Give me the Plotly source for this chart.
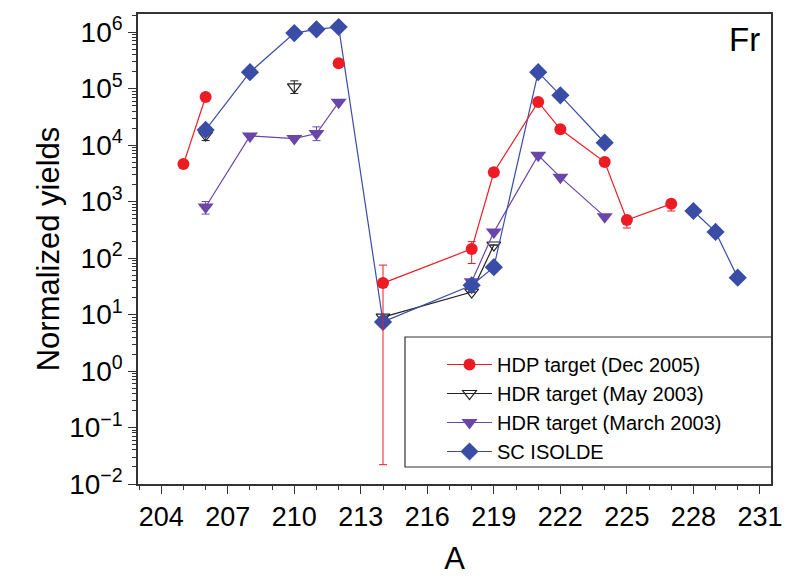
import plotly.graph_objects as go

# ---- data (None = break in the line) ----
hdp_A = [205, 206, None, 212, None, 214, 218, 219, 221, 222, 224, 225, 227]
hdp_y = [4.6e3, 7.1e4, None, 2.8e5, None, 36, 145, 3.3e3, 5.8e4, 1.9e4, 5.0e3, 470, 910]
hdp_err_plus = [0, 0, 0, 0, 0, 39, 50, 0, 0, 0, 0, 80, 150]
hdp_err_minus = [0, 0, 0, 0, 0, 35.978, 65, 0, 0, 0, 0, 130, 230]

may_A = [206, None, 210, None, 214, 218, 219]
may_y = [1.5e4, None, 1.07e5, None, 9, 25, 170]
may_err_plus = [3e3, 0, 3e4, 0, 0, 0, 0]
may_err_minus = [3e3, 0, 2.5e4, 0, 0, 0, 0]

mar_A = [206, 208, 210, 211, 212, None, 218, 219, 221, 222, 224]
mar_y = [800, 1.45e4, 1.3e4, 1.6e4, 5.7e4, None, 38, 290, 6.6e3, 2.7e3, 540]
mar_err_plus = [200, 0, 0, 5e3, 0, 0, 0, 0, 0, 0, 0]
mar_err_minus = [200, 0, 0, 4e3, 0, 0, 0, 0, 0, 0, 0]

sc_A = [206, 208, 210, 211, 212, 214, 218, 219, 221, 222, 224, None, 228, 229, 230]
sc_y = [1.85e4, 1.95e5, 9.6e5, 1.12e6, 1.23e6, 7.4, 33, 69, 1.95e5, 7.6e4, 1.1e4, None, 680, 290, 45]

x_tickvals = [204, 207, 210, 213, 216, 219, 222, 225, 228, 231]
y_tickvals = [1e-2, 1e-1, 1e0, 1e1, 1e2, 1e3, 1e4, 1e5, 1e6]
y_ticktext = ["10<sup>\u22122</sup>", "10<sup>\u22121</sup>", "10<sup>0</sup>", "10<sup>1</sup>",
              "10<sup>2</sup>", "10<sup>3</sup>", "10<sup>4</sup>", "10<sup>5</sup>", "10<sup>6</sup>"]

RED = "#ED1C24"
BLACK = "#222222"
PURPLE = "#6A46AA"
BLUE = "#3A4DA6"

FONT = "Liberation Sans, Arial, Helvetica, sans-serif"

fig = go.Figure()

fig.add_trace(go.Scatter(
    x=may_A, y=may_y, mode="lines+markers", name="HDR target (May 2003)",
    legendrank=2,
    line=dict(color=BLACK, width=1.2),
    marker=dict(symbol="triangle-down-open", size=12, color=BLACK, line=dict(width=1.2)),
    error_y=dict(type="data", array=may_err_plus, arrayminus=may_err_minus,
                 color=BLACK, thickness=1, width=4),
))
fig.add_trace(go.Scatter(
    x=mar_A, y=mar_y, mode="lines+markers", name="HDR target (March 2003)",
    legendrank=3,
    line=dict(color=PURPLE, width=1.2),
    marker=dict(symbol="triangle-down", size=14, color=PURPLE),
    error_y=dict(type="data", array=mar_err_plus, arrayminus=mar_err_minus,
                 color=PURPLE, thickness=1, width=4),
))
fig.add_trace(go.Scatter(
    x=sc_A, y=sc_y, mode="lines+markers", name="SC ISOLDE",
    legendrank=4,
    line=dict(color=BLUE, width=1.2),
    marker=dict(symbol="diamond", size=14, color=BLUE),
))
fig.add_trace(go.Scatter(
    x=hdp_A, y=hdp_y, mode="lines+markers", name="HDP target (Dec 2005)",
    legendrank=1,
    line=dict(color=RED, width=1.2),
    marker=dict(symbol="circle", size=12, color=RED),
    error_y=dict(type="data", array=hdp_err_plus, arrayminus=hdp_err_minus,
                 color=RED, thickness=1, width=4),
))

fig.update_layout(
    width=793, height=583,
    margin=dict(l=138, r=22, t=14, b=99),
    paper_bgcolor="white", plot_bgcolor="white",
    font=dict(family=FONT, color="black"),
    showlegend=True,
    legend=dict(
        x=(442 - 138) / 633, y=(484 - 345) / 470, xanchor="left", yanchor="top",
        bgcolor="rgba(0,0,0,0)", borderwidth=0,
        font=dict(size=20, family=FONT),
        itemwidth=45,
        tracegroupgap=0,
    ),
    shapes=[dict(type="rect", xref="paper", yref="paper",
                 x0=(405 - 138) / 633, x1=(772 - 138) / 633,
                 y0=(484 - 467) / 470, y1=(484 - 337) / 470,
                 line=dict(color="#333333", width=1.2))],
    annotations=[dict(text="Fr", x=0.985, y=0.99, xref="paper", yref="paper",
                      xanchor="right", yanchor="top", showarrow=False,
                      font=dict(size=33, family=FONT, color="black"))],
)

fig.update_xaxes(
    range=[202.95, 231.5],
    tickvals=x_tickvals,
    ticks="outside", ticklen=8, tickwidth=1.2, tickcolor="#333",
    minor=dict(dtick=1, ticks="outside", ticklen=4, tickwidth=1, tickcolor="#333", showgrid=False),
    showline=True, linecolor="#333", linewidth=1.5, mirror=True,
    showgrid=False, zeroline=False,
    tickfont=dict(size=27, family=FONT),
    title=dict(text="A", font=dict(size=31, family=FONT), standoff=16),
)
fig.update_yaxes(
    type="log", range=[-2, 6.32],
    tickvals=y_tickvals, ticktext=y_ticktext,
    ticks="outside", ticklen=8, tickwidth=1.2, tickcolor="#333",
    minor=dict(dtick="D1", ticks="outside", ticklen=4, tickwidth=1, tickcolor="#333", showgrid=False),
    showline=True, linecolor="#333", linewidth=1.5, mirror=True,
    showgrid=False, zeroline=False,
    tickfont=dict(size=28, family=FONT),
    title=dict(text="Normalized yields", font=dict(size=31, family=FONT), standoff=0),
)

fig.write_html("out.html")
